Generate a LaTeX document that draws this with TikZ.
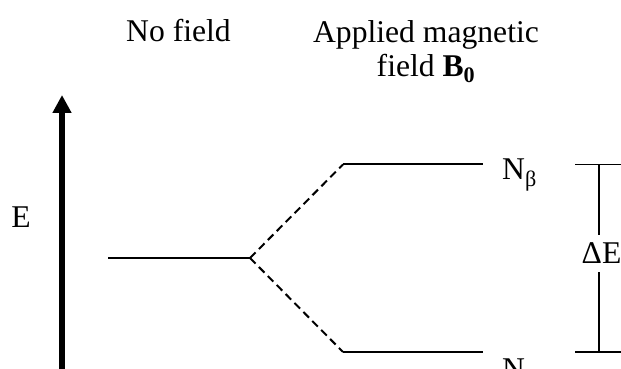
\documentclass[tikz,border=0pt]{standalone}
\usepackage{fontspec}
\setmainfont{Liberation Serif}
\usetikzlibrary{arrows.meta,positioning}

\begin{document}
\begin{tikzpicture}[every node/.style={font=\fontsize{30}{33}\selectfont,inner sep=0pt},
    level/.style={line width=1.9pt},
    split/.style={line width=1.9pt,dash pattern=on 7.5pt off 4.5pt},
    gap/.style={line width=1.4pt}]
  \useasboundingbox (0,0) rectangle (20.7,12.3);
  % energy axis
  \coordinate (ebot) at (2.067,0);
  \coordinate (etop) at (2.067,9.133);
  \draw[line width=5.2pt,-{Triangle[length=17pt,width=17pt]}] (ebot) -- (etop);
  \node (elab) at (0.7,5.067) {E};
  % headings
  \node[anchor=base] (nofield) at (5.95,10.9) {No field};
  \node[anchor=base,align=center] (applied) at (14.2,9.74)
    {Applied magnetic\\field \textbf{B\textsubscript{0}}};
  % levels
  \coordinate (l0a) at (3.6,3.7);
  \coordinate (l0b) at (8.333,3.7);
  \coordinate (lba) at (11.433,6.817);
  \coordinate (lbb) at (16.1,6.817);
  \coordinate (laa) at (11.433,0.567);
  \coordinate (lab) at (16.1,0.567);
  \draw[level] (l0a) -- (l0b);
  \draw[level] (lba) -- (lbb);
  \draw[level] (laa) -- (lab);
  \draw[split] (l0b) -- (lba);
  \draw[split] (l0b) -- (laa);
  \node[anchor=base west] (nbeta) at (16.733,6.3) {N\textsubscript{β}};
  \node[anchor=base west] (nalpha) at (16.733,-0.36) {N\textsubscript{α}};
  % energy gap
  \coordinate (dtl) at (19.167,6.817);
  \coordinate (dtr) at (20.8,6.817);
  \coordinate (dbl) at (19.167,0.567);
  \coordinate (dbr) at (20.8,0.567);
  \coordinate (dtop) at (19.967,6.817);
  \coordinate (dbot) at (19.967,0.567);
  \node[minimum height=1.233cm] (de) at (20.05,3.85) {ΔE};
  \draw[gap] (dtl) -- (dtr);
  \draw[gap] (dbl) -- (dbr);
  \draw[gap] (dtop) -- (de.north -| dtop);
  \draw[gap] (de.south -| dbot) -- (dbot);
\end{tikzpicture}
\end{document}
